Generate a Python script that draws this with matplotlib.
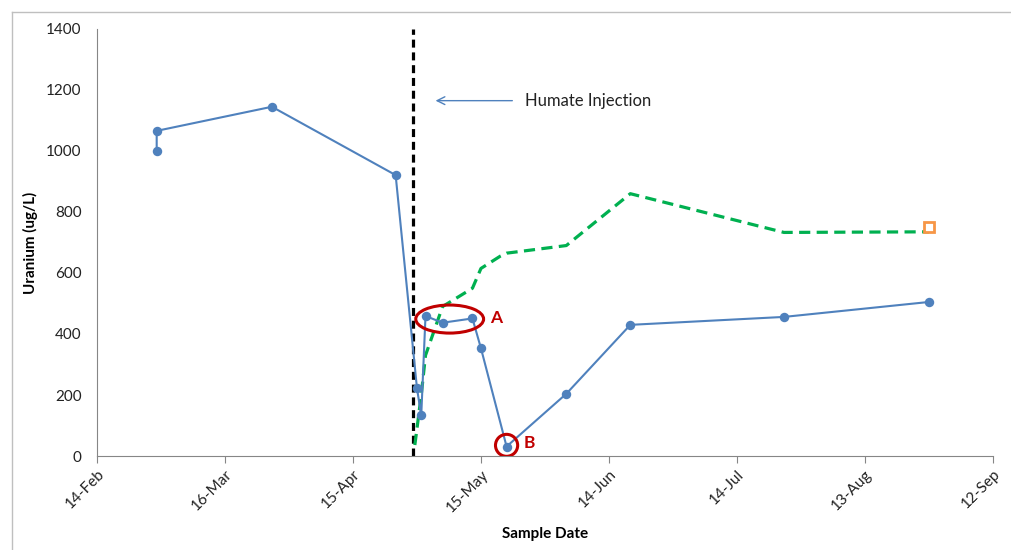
import numpy as np
import pandas as pd
import matplotlib
matplotlib.use('Agg')
import matplotlib.pyplot as plt
import matplotlib.dates as mdates
from matplotlib.patches import Ellipse
from matplotlib.lines import Line2D

plt.rcParams['font.family'] = ['Lato', 'DejaVu Sans']

# measured uranium
sample_dates = ['2013-02-28', '2013-02-28', '2013-03-27', '2013-04-25', '2013-04-30',
                '2013-05-01', '2013-05-02', '2013-05-06', '2013-05-13', '2013-05-15',
                '2013-05-21', '2013-06-04', '2013-06-19', '2013-07-25', '2013-08-28']
uranium = [1000, 1066, 1145, 921, 222, 133, 459, 437, 451, 353, 31, 204, 430, 456, 505]

# green dashed trend
trend_dates = ['2013-04-29 12:00', '2013-04-30 00:00', '2013-05-01 00:00', '2013-05-02 00:00',
               '2013-05-06 00:00', '2013-05-13 00:00', '2013-05-15 00:00', '2013-05-19 12:00',
               '2013-05-21 00:00', '2013-06-04 00:00', '2013-06-19 00:00', '2013-07-25 00:00',
               '2013-08-28 00:00']
trend = [36, 90, 200, 330, 490, 550, 615, 655, 665, 690, 860, 733, 735]

# single orange point
extra_date = ['2013-08-28']
extra_value = [752]

injection_date = '2013-04-29'

tick_dates = ['2013-02-14', '2013-03-16', '2013-04-15', '2013-05-15', '2013-06-14',
              '2013-07-14', '2013-08-13', '2013-09-12']
tick_labels = ['14-Feb', '16-Mar', '15-Apr', '15-May', '14-Jun', '14-Jul', '13-Aug', '12-Sep']
y_ticks = [0, 200, 400, 600, 800, 1000, 1200, 1400]

blue = '#4F81BD'
green = '#00B050'
orange = '#F79646'
red = '#C00000'
gray = '#868686'

fig = plt.figure(figsize=(10.11, 5.5), dpi=100)
ax = fig.add_axes([0.0959, 0.1709, 0.8863, 0.7764])

sd = pd.to_datetime(sample_dates)
td = pd.to_datetime(trend_dates, format='%Y-%m-%d %H:%M')

ax.plot(td, trend, color=green, linewidth=2.3, dashes=(3.5, 2.0), zorder=3)
ax.plot(sd, uranium, color=blue, linewidth=1.5, marker='o', markersize=6.8,
        markeredgewidth=0, zorder=4)
ax.plot(pd.to_datetime(extra_date), extra_value, linestyle='none', marker='s',
        markersize=7, markerfacecolor='white', markeredgecolor=orange,
        markeredgewidth=2, zorder=5)

inj = pd.Timestamp(injection_date)
ax.axvline(inj, ymin=0, ymax=1, color='black', linewidth=2.3, dashes=(2.5, 1.5), zorder=2)

# annotation arrow + text
ax.annotate('', xy=(mdates.date2num(inj) + 4.7, 1165),
            xytext=(mdates.date2num(inj) + 24, 1165),
            arrowprops=dict(arrowstyle='->', color=blue, linewidth=1.0,
                            mutation_scale=14))
ax.text(mdates.date2num(inj) + 26.3, 1165, 'Humate Injection', fontsize=12,
        va='center', ha='left', color='#222222')

# ellipses around A and B
a_center = mdates.date2num(pd.Timestamp('2013-05-07 16:00'))
ax.add_patch(Ellipse((a_center, 449), width=15.9, height=92, fill=False,
                     edgecolor=red, linewidth=2.2, zorder=6))
ax.text(a_center + 10.8, 452, 'A', color=red, fontsize=12.5, fontweight='bold',
        va='center', ha='center')
b_center = mdates.date2num(pd.Timestamp('2013-05-21'))
ax.add_patch(Ellipse((b_center, 35), width=5.2, height=72, fill=False,
                     edgecolor=red, linewidth=2.2, zorder=6))
ax.text(b_center + 5.3, 43, 'B', color=red, fontsize=12.5, fontweight='bold',
        va='center', ha='center')

ax.set_xlim(pd.Timestamp(tick_dates[0]), pd.Timestamp(tick_dates[-1]))
ax.set_ylim(0, 1400)
ax.set_xticks(pd.to_datetime(tick_dates))
ax.set_xticklabels(tick_labels, rotation=45, ha='right', va='top',
                   rotation_mode='anchor', fontsize=11, color='#222222')
ax.set_yticks(y_ticks)
ax.set_yticklabels([str(v) for v in y_ticks], fontsize=11, color='#222222')
ax.tick_params(axis='y', length=0, pad=11)
ax.tick_params(axis='x', length=5, width=0.8, color=gray, direction='out', pad=3)

for s in ['top', 'right']:
    ax.spines[s].set_visible(False)
for s in ['left', 'bottom']:
    ax.spines[s].set_color(gray)
    ax.spines[s].set_linewidth(0.8)

ax.set_xlabel('Sample Date', fontsize=11, fontweight='bold', labelpad=9)
ax.set_ylabel('Uranium (ug/L)', fontsize=11, fontweight='bold', labelpad=6)

# light chart border
fig.add_artist(Line2D([12 / 1011, 12 / 1011], [0, 1 - 12 / 550], color='#BFBFBF',
                      linewidth=1.0, transform=fig.transFigure))
fig.add_artist(Line2D([12 / 1011, 1], [1 - 12 / 550, 1 - 12 / 550], color='#BFBFBF',
                      linewidth=1.0, transform=fig.transFigure))

plt.savefig('out.png', dpi=100)
